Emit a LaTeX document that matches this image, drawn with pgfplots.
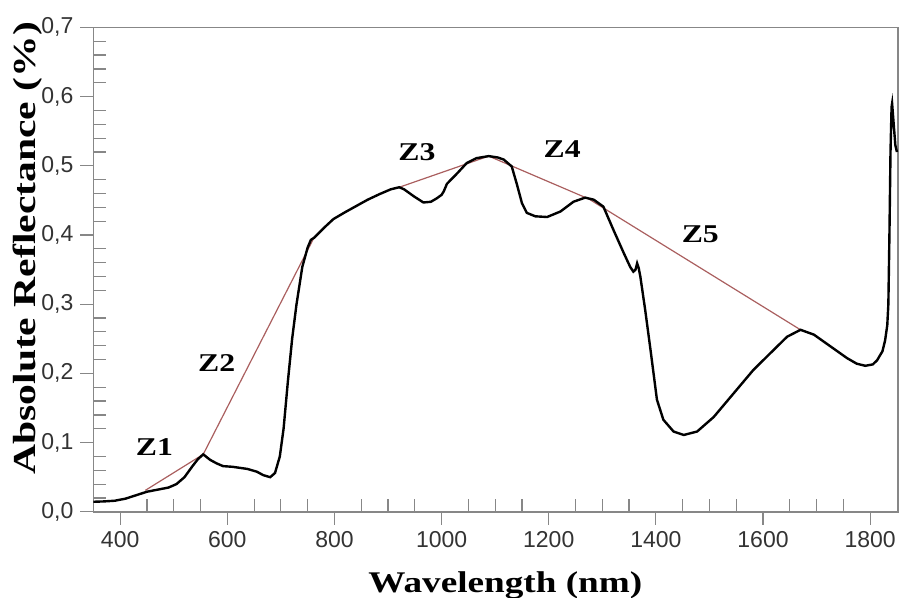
\documentclass[border=0pt]{standalone}
\usepackage{pgfplots}
\pgfplotsset{compat=1.18}
\usepackage{fontspec}
\setmainfont{Liberation Serif}
\newfontfamily\ticksans{Liberation Sans}
\definecolor{hull}{RGB}{170,95,95}
\definecolor{axisgray}{RGB}{135,135,135}
\newcommand{\zl}[1]{\scalebox{1.24}[1]{#1}}

\begin{document}
\begin{tikzpicture}
\useasboundingbox (-46.7pt,-43.1pt) rectangle (403.3pt,255.9pt);
\begin{axis}[
    scale only axis,
    width=402.3pt, height=242.2pt,
    xmin=350, xmax=1852, ymin=0, ymax=0.7,
    xtick={400,600,800,1000,1200,1400,1600,1800},
    ytick={0,0.1,0.2,0.3,0.4,0.5,0.6,0.7},
    minor x tick num=3, minor y tick num=4,
    tick pos=left,
    tick align=outside,
    major tick length=6.5pt, minor tick length=6.5pt,
    every minor x tick/.append style={yshift=6.5pt},
    every minor y tick/.append style={xshift=6.5pt},
    axis line style={axisgray, line width=0.8pt},
    every tick/.append style={axisgray, line width=0.6pt},
    tick label style={font=\ticksans\fontsize{11.5}{13}\selectfont, text=black!80},
    /pgf/number format/assume math mode=true,
    xticklabel style={/pgf/number format/1000 sep={}},
    yticklabel style={/pgf/number format/.cd, fixed, fixed zerofill, precision=1, use comma},
    xlabel={\zl{Wavelength (nm)}},
    xlabel style={at={(axis description cs:0.512,0)}, anchor=base, yshift=-40.6pt,
        font=\bfseries\fontsize{15}{17}\selectfont},
    ylabel={\scalebox{1.3}[1]{Absolute Reflectance (\%)}},
    ylabel style={at={(axis description cs:0,0.544)}, anchor=center, yshift=32.9pt,
        font=\bfseries\fontsize{16}{18}\selectfont},
    clip=false,
]
% continuum hull
\addplot[hull, line width=0.6pt] coordinates {
    (447,0.031) (555,0.083) (761,0.395) (780,0.410) (798,0.423) (820,0.433)
    (841,0.442) (862,0.451) (884,0.459) (905,0.466) (921,0.469) (1088,0.514)
    (1275,0.452) (1670,0.263)
};
% reflectance spectrum
\addplot[black, line width=1.2pt] coordinates {
    (350,0.0145) (370,0.015) (390,0.016) (410,0.019) (430,0.024) (450,0.029)
    (470,0.032) (490,0.035) (505,0.040) (520,0.050) (535,0.066) (545,0.076)
    (555,0.083) (568,0.075) (580,0.070) (592,0.066) (610,0.065) (637,0.062)
    (655,0.058) (667,0.053) (680,0.050) (689,0.056) (698,0.080) (705,0.120)
    (713,0.188) (721,0.250) (729,0.299) (740,0.354) (750,0.382) (756,0.393)
    (762,0.396) (780,0.410) (798,0.423) (820,0.433) (841,0.442) (862,0.451)
    (884,0.459) (905,0.466) (921,0.469) (930,0.466) (948,0.456) (966,0.447)
    (980,0.448) (991,0.453) (1000,0.458) (1004,0.463) (1010,0.474) (1029,0.489)
    (1047,0.504) (1065,0.511) (1088,0.514) (1105,0.512) (1116,0.509) (1131,0.499)
    (1141,0.472) (1150,0.446) (1159,0.432) (1175,0.427) (1197,0.426) (1222,0.434)
    (1246,0.448) (1268,0.454) (1284,0.451) (1302,0.441) (1321,0.407) (1340,0.374)
    (1352,0.354) (1358,0.347) (1362,0.350) (1365,0.359) (1368,0.352) (1371,0.340)
    (1380,0.292) (1390,0.234) (1402,0.162) (1414,0.133) (1433,0.116) (1452,0.111)
    (1477,0.116) (1508,0.137) (1545,0.171) (1582,0.205) (1620,0.234) (1645,0.253)
    (1670,0.263) (1695,0.256) (1726,0.239) (1757,0.222) (1775,0.214) (1791,0.211)
    (1805,0.213) (1813,0.219) (1823,0.232) (1828,0.248) (1832,0.270) (1834,0.300)
    (1836,0.400) (1838,0.520) (1840,0.585) (1841,0.590) (1843,0.570) (1845,0.550)
    (1847,0.530) (1850,0.520)
};
\begin{scope}[every node/.style={inner sep=0pt, font=\bfseries\fontsize{12.8}{14}\selectfont}]
\node at (axis cs:464,0.093) {\zl{Z1}};
\node at (axis cs:580,0.2146) {\zl{Z2}};
\node at (axis cs:954,0.520) {\zl{Z3}};
\node at (axis cs:1225,0.524) {\zl{Z4}};
\node at (axis cs:1483,0.401) {\zl{Z5}};
\end{scope}
\end{axis}
\end{tikzpicture}
\end{document}
